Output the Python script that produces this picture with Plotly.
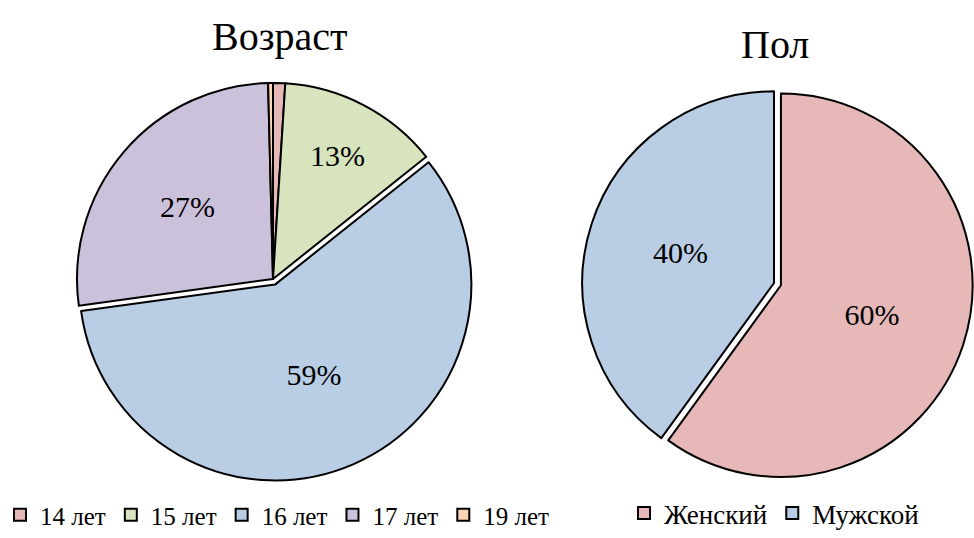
import plotly.graph_objects as go

age_labels = ["14 лет", "15 лет", "16 лет", "17 лет", "19 лет"]
age_values = [1.0, 13.3, 58.6, 26.8, 0.4]
age_text = ["", "13%", "59%", "27%", ""]
age_colors = ["#E6B9B8", "#D7E4BD", "#B9CDE5", "#CCC1DA", "#FCD5B5"]
age_pull = [0, 0, 0.03, 0, 0]

sex_labels = ["Женский", "Мужской"]
sex_values = [60, 40]
sex_text = ["60%", "40%"]
sex_colors = ["#E6B9B8", "#B9CDE5"]
sex_pull = [0.038, 0]

FONT = "Liberation Serif, Times New Roman, serif"
W, H = 974, 538

fig = go.Figure()
fig.add_trace(go.Pie(
    labels=age_labels, values=age_values, text=age_text,
    texttemplate="%{text}", textposition="inside", insidetextorientation="horizontal",
    sort=False, direction="clockwise", rotation=0,
    marker=dict(colors=age_colors, line=dict(color="black", width=2)),
    pull=age_pull,
    textfont=dict(family=FONT, size=30, color="black"),
    domain=dict(x=[71.1 / W, 474.9 / W], y=[1 - 480.9 / H, 1 - 77.1 / H]),
    legend="legend", hoverinfo="label+percent",
))
fig.add_trace(go.Pie(
    labels=sex_labels, values=sex_values, text=sex_text,
    texttemplate="%{text}", textposition="inside", insidetextorientation="horizontal",
    sort=False, direction="clockwise", rotation=0,
    marker=dict(colors=sex_colors, line=dict(color="black", width=2)),
    pull=sex_pull,
    textfont=dict(family=FONT, size=30, color="black"),
    domain=dict(x=[574 / W, 974 / W], y=[1 - 482 / H, 1 - 84 / H]),
    legend="legend2", hoverinfo="label+percent",
))

fig.update_layout(
    width=W, height=H,
    margin=dict(l=0, r=0, t=0, b=0),
    paper_bgcolor="white",
    font=dict(family=FONT, color="black"),
    showlegend=True,
    legend=dict(orientation="h", x=0, xanchor="left", y=0, yanchor="bottom",
                font=dict(family=FONT, size=25, color="black"), itemwidth=30,
                bgcolor="rgba(0,0,0,0)"),
    legend2=dict(orientation="h", x=774 / W, xanchor="center", y=0, yanchor="bottom",
                 font=dict(family=FONT, size=27, color="black"), itemwidth=30,
                 bgcolor="rgba(0,0,0,0)"),
    annotations=[
        dict(text="Возраст", x=279 / W, y=1 - 36 / H, xref="paper", yref="paper",
             xanchor="center", yanchor="middle",
             showarrow=False, font=dict(family=FONT, size=40, color="black")),
        dict(text="Пол", x=775 / W, y=1 - 45 / H, xref="paper", yref="paper",
             xanchor="center", yanchor="middle",
             showarrow=False, font=dict(family=FONT, size=40, color="black")),
    ],
)

fig.write_html("out.html", config={"displayModeBar": False},
               post_script="document.body.style.margin='0';")
